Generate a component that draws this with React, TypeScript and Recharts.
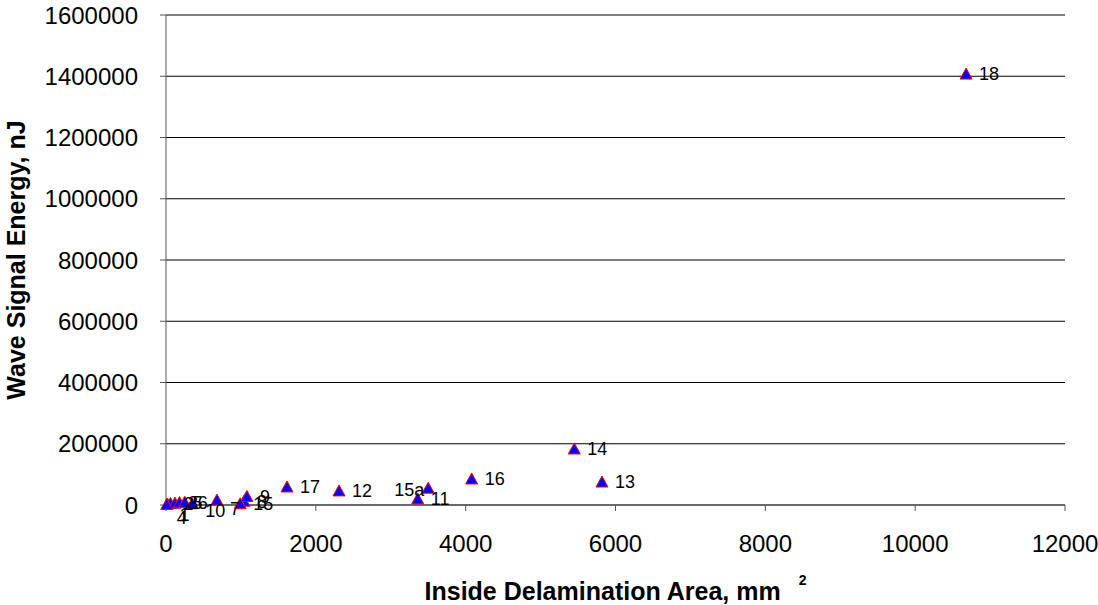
import React from "react";
import { ScatterChart, Scatter, XAxis, YAxis, CartesianGrid } from "recharts";

// specimen id, inside delamination area (mm^2), wave signal energy (nJ)
const specimenNames = ["1", "2", "3", "4", "5", "6", "7", "8", "9", "10", "11", "12", "13", "14", "15", "15a", "16", "17", "18"];
const delamArea = [20, 60, 120, 10, 180, 250, 680, 1040, 1080, 350, 3360, 2310, 5820, 5450, 990, 3500, 4080, 1615, 10680];
const signalEnergy = [3000, 5000, 6000, 2000, 8000, 9000, 16000, 12000, 28000, 4000, 20000, 46000, 75000, 183000, 4000, 55000, 85000, 59000, 1407000];

const xTicks = [0, 2000, 4000, 6000, 8000, 10000, 12000];
const yTicks = [0, 200000, 400000, 600000, 800000, 1000000, 1200000, 1400000, 1600000];

// a few labels in the crowded corner were moved by hand in the original
const labelNudge: Record<string, { dx: number; dy: number; anchor?: "start" | "end" }> = {
  "1": { dx: -1, dy: 11 },
  "4": { dx: -3, dy: 13 },
  "10": { dx: 0, dy: 7 },
  "7": { dx: 0, dy: 9 },
  "15a": { dx: 0, dy: 2, anchor: "end" },
};

const data = specimenNames.map((name, i) => ({ name, x: delamArea[i], y: signalEnergy[i] }));

const FONT = "'Liberation Sans', Arial, sans-serif";

const Triangle = (props: any) => {
  const { cx, cy } = props;
  if (cx == null || cy == null) return null;
  const pts = `${cx},${cy - 6} ${cx - 6},${cy + 5} ${cx + 6},${cy + 5}`;
  return <polygon points={pts} fill="#0000ff" stroke="#ff0000" strokeWidth={1} />;
};

const PointLabel = (props: any) => {
  const { cx, cy, payload } = props;
  if (cx == null || cy == null || !payload) return null;
  const nudge = labelNudge[payload.name] || { dx: 0, dy: 0 };
  const anchor = nudge.anchor || "start";
  const tx = anchor === "end" ? cx - 4 + nudge.dx : cx + 13 + nudge.dx;
  return (
    <text x={tx} y={cy + 6.3 + nudge.dy} fontSize={18} fontFamily={FONT} textAnchor={anchor} fill="#000">
      {payload.name}
    </text>
  );
};

const XTitle = (props: any) => {
  const vb = props.viewBox || { x: 166, y: 505, width: 899 };
  return (
    <text x={vb.x + vb.width / 2} y={vb.y + 95} textAnchor="middle" fontFamily={FONT} fontWeight="bold" fontSize={25} fill="#000">
      Inside Delamination Area, mm
      <tspan dx={18} dy={-15} fontSize={14}>2</tspan>
    </text>
  );
};

const YTitle = (props: any) => {
  const vb = props.viewBox || { x: 0, y: 15, height: 490 };
  const cy = vb.y + vb.height / 2;
  return (
    <text x={25} y={cy} transform={`rotate(-90, 25, ${cy})`} textAnchor="middle" fontFamily={FONT} fontWeight="bold" fontSize={25} fill="#000">
      Wave Signal Energy, nJ
    </text>
  );
};

export default function App() {
  return (
    <div style={{ position: "absolute", left: 0, top: 0, background: "#fff" }}>
      <ScatterChart width={1098} height={605} margin={{ top: 15, right: 33, bottom: 0, left: 0 }} style={{ fontFamily: FONT }}>
        <CartesianGrid horizontal={true} vertical={false} stroke="#000" strokeWidth={1} />
        <XAxis
          type="number"
          dataKey="x"
          domain={[0, 12000]}
          ticks={xTicks}
          interval={0}
          height={100}
          tickSize={6}
          tickMargin={24}
          stroke="#555"
          tick={{ fill: "#000", fontSize: 24, fontFamily: FONT }}
          label={{ content: XTitle }}
        />
        <YAxis
          type="number"
          dataKey="y"
          domain={[0, 1600000]}
          ticks={yTicks}
          interval={0}
          width={166}
          tickSize={6}
          tickMargin={22}
          stroke="#555"
          tick={{ fill: "#000", fontSize: 24, fontFamily: FONT }}
          label={{ content: YTitle }}
        />
        <Scatter data={data} shape={Triangle} isAnimationActive={false} />
        <Scatter data={data} shape={PointLabel} isAnimationActive={false} />
      </ScatterChart>
    </div>
  );
}
